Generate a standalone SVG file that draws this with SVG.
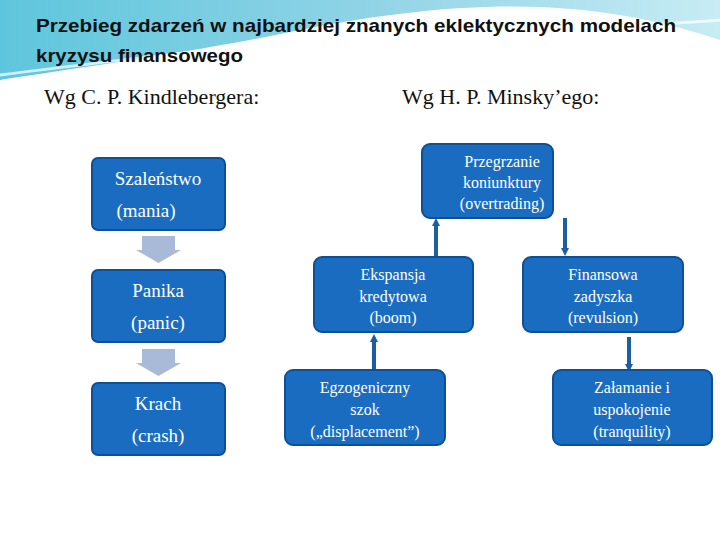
<svg xmlns="http://www.w3.org/2000/svg" width="720" height="540" viewBox="0 0 720 540">
<defs>
<linearGradient id="bg" x1="0" y1="0" x2="1" y2="0"><stop offset="0" stop-color="#5ec6dc"/><stop offset="0.5" stop-color="#8fd3e6"/><stop offset="1" stop-color="#c7ecf4"/></linearGradient>
<marker id="ah" viewBox="0 0 10 10" refX="5" refY="5" markerWidth="2" markerHeight="2" orient="auto"><path d="M0,0L10,5L0,10z" fill="#1c5f9e"/></marker>
<style>
.b{fill:#1a6cc0;stroke:#0e4f96;stroke-width:2}
.t{font-family:"Liberation Serif",serif;fill:#fff;text-anchor:middle}
.s{font-size:16px}.l{font-size:19px}
.c{stroke:#1c5f9e;stroke-width:4;fill:none}
.ba{fill:#a9bad8}
</style>
</defs>
<rect width="720" height="540" fill="#fff"/>
<path d="M0,0H720V40C600,0 480,-5 300,30C180,55 60,70 0,80Z" fill="url(#bg)"/>
<path d="M0,75C120,60 200,50 320,40C450,30 600,30 720,20" stroke="#fff" stroke-width="3" fill="none" opacity="0.7"/>
<text x="36" y="32" font-family="Liberation Sans,sans-serif" font-size="19" font-weight="bold" fill="#111" textLength="640" lengthAdjust="spacingAndGlyphs">Przebieg zdarzeń w najbardziej znanych eklektycznych modelach</text>
<text x="36" y="62" font-family="Liberation Sans,sans-serif" font-size="19" font-weight="bold" fill="#111" textLength="207" lengthAdjust="spacingAndGlyphs">kryzysu finansowego</text>
<text x="44" y="104" font-family="Liberation Serif,serif" font-size="22" fill="#111">Wg C. P. Kindlebergera:</text>
<text x="402" y="104" font-family="Liberation Serif,serif" font-size="22" fill="#111">Wg H. P. Minsky’ego:</text>
<g id="connectors">
<path class="ba" d="M142,236H175V250H181L158.5,263L136,250H142Z"/>
<path class="ba" d="M142,349H175V363H181L158.5,376L136,363H142Z"/>
<line class="c" x1="436" y1="257" x2="436" y2="222" marker-end="url(#ah)"/>
<line class="c" x1="565" y1="218" x2="565" y2="252" marker-end="url(#ah)"/>
<line class="c" x1="374" y1="370" x2="374" y2="338" marker-end="url(#ah)"/>
<line class="c" x1="629" y1="337" x2="629" y2="368" marker-end="url(#ah)"/>
</g>
<g id="mania"><rect class="b" x="92" y="158" width="133" height="72" rx="6"/><text class="t l" x="158" y="185">Szaleństwo</text><text class="t l" x="146" y="217">(mania)</text></g>
<g id="panic"><rect class="b" x="92" y="270" width="133" height="72" rx="6"/><text class="t l" x="158" y="297">Panika</text><text class="t l" x="158" y="329">(panic)</text></g>
<g id="crash"><rect class="b" x="92" y="383" width="133" height="72" rx="6"/><text class="t l" x="158" y="410">Krach</text><text class="t l" x="158" y="442">(crash)</text></g>
<g id="overtrading"><rect class="b" x="422" y="144" width="131" height="74" rx="8"/><text class="t s" x="502" y="167">Przegrzanie</text><text class="t s" x="502" y="188">koniunktury</text><text class="t s" x="502" y="209">(overtrading)</text></g>
<g id="boom"><rect class="b" x="314" y="257" width="159" height="75" rx="8"/><text class="t s" x="393" y="280">Ekspansja</text><text class="t s" x="393" y="302">kredytowa</text><text class="t s" x="393" y="323">(boom)</text></g>
<g id="revulsion"><rect class="b" x="523" y="257" width="160" height="75" rx="8"/><text class="t s" x="603" y="280">Finansowa</text><text class="t s" x="603" y="302">zadyszka</text><text class="t s" x="603" y="323">(revulsion)</text></g>
<g id="displacement"><rect class="b" x="285" y="370" width="160" height="75" rx="8"/><text class="t s" x="365" y="393">Egzogeniczny</text><text class="t s" x="365" y="415">szok</text><text class="t s" x="365" y="437">(„displacement”)</text></g>
<g id="tranquility"><rect class="b" x="553" y="370" width="159" height="75" rx="8"/><text class="t s" x="632" y="393">Załamanie i</text><text class="t s" x="632" y="415">uspokojenie</text><text class="t s" x="632" y="437">(tranquility)</text></g>
</svg>
